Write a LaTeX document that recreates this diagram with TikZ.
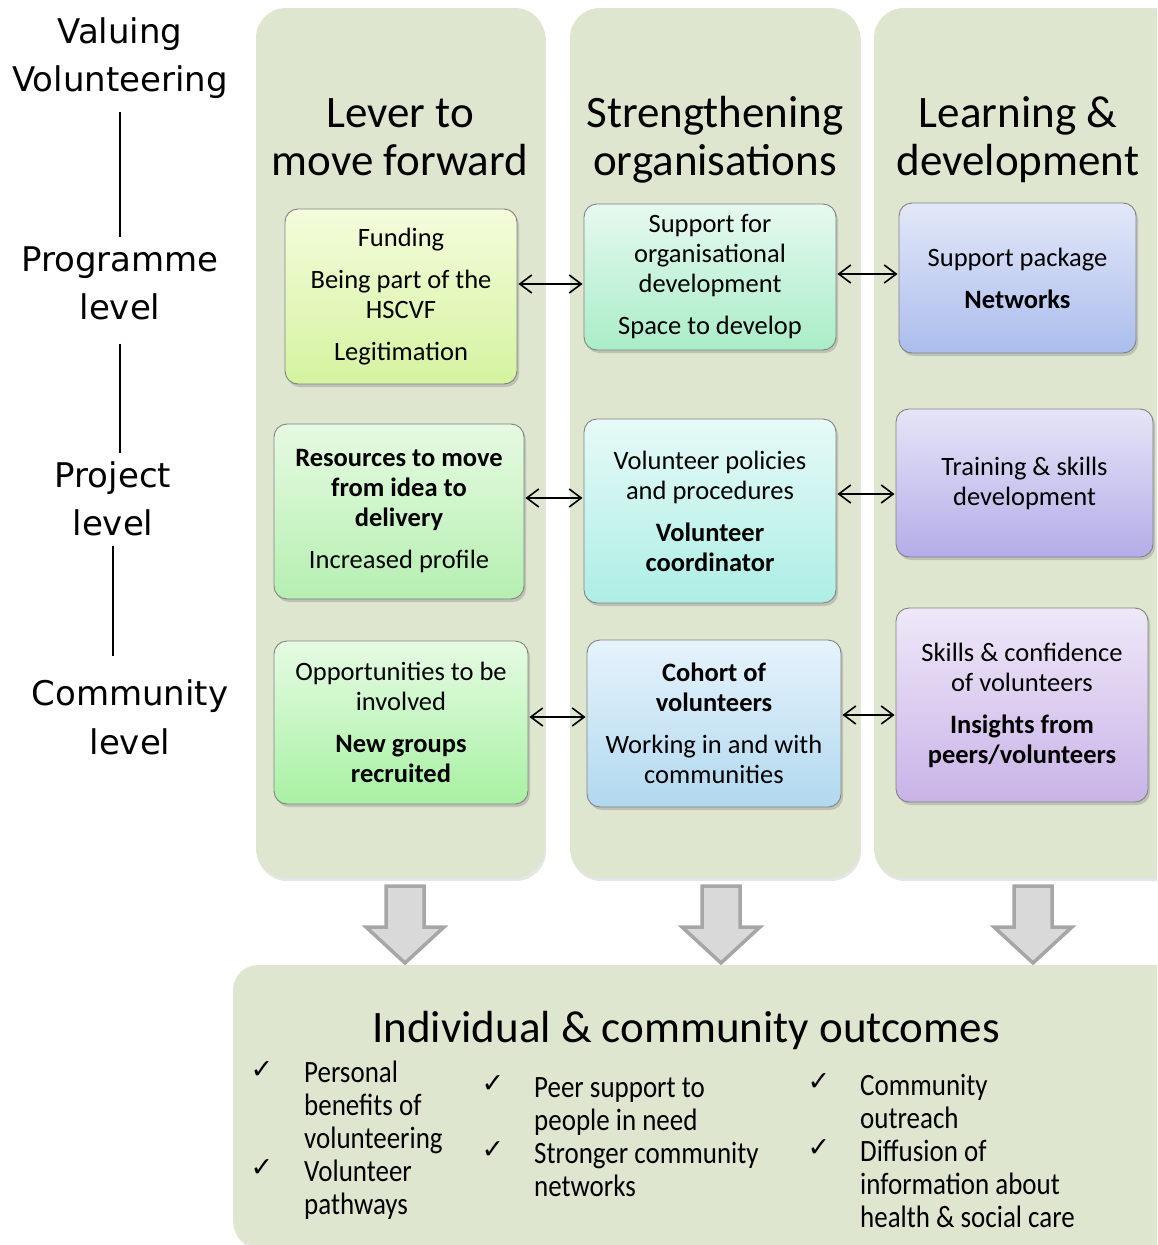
\documentclass[tikz,border=0pt]{standalone}
\usepackage{fontspec}
\setmainfont{Carlito}
\newfontfamily\verd{DejaVu Sans}
\newfontfamily\narrowf{Carlito}[FakeStretch=0.87]
\usetikzlibrary{shadows,arrows.meta,calc}
\definecolor{colbgc}{RGB}{222,230,208}
\definecolor{boxline}{RGB}{130,130,130}
\definecolor{arrfill}{RGB}{217,217,217}
\definecolor{arrline}{RGB}{166,166,166}
\begin{document}
\begin{tikzpicture}[x=1pt,y=-1pt,
 colbg/.style={fill=colbgc, rounded corners=30pt, drop shadow={shadow xshift=1pt,shadow yshift=-3pt,opacity=0.2}},
 box/.style={draw=boxline, line width=0.9pt, rounded corners=13pt, align=center, inner sep=0pt,
   font=\fontsize{26.5}{30}\selectfont, drop shadow={shadow xshift=2pt,shadow yshift=-3pt,opacity=0.35}},
 coltitle/.style={font=\fontsize{45}{48}\selectfont, inner sep=0pt, anchor=base},
 lvl/.style={font=\verd\fontsize{34}{48}\selectfont, inner sep=0pt, anchor=base},
 lvline/.style={line width=1.5pt, black},
 dbl/.style={{Straight Barb[length=12pt,width=18pt]}-{Straight Barb[length=12pt,width=18pt]}, line width=1.6pt, shorten <=1pt, shorten >=1pt},
 blockarr/.style={fill=arrfill, draw=arrline, line width=3.5pt, line join=miter},
 chk/.style={font=\verd\fontsize{27}{27}\selectfont, inner sep=0pt},
 item/.style={font=\narrowf\fontsize{31}{33}\selectfont, align=left, inner sep=0pt, anchor=base west},
]
\useasboundingbox (0,0) rectangle (1157,1245);
\clip (0,0) rectangle (1157,1245);

% column backgrounds
\path[colbg] (256,8) rectangle (545,878);
\path[colbg] (570,8) rectangle (860,878);
\path[colbg] (874,8) rectangle (1190,878);

% column titles
\node[coltitle] (t1a) at (400,127) {Lever to};
\node[coltitle] (t1b) at (400,175) {move forward};
\node[coltitle] (t2a) at (715,127) {Strengthening};
\node[coltitle] (t2b) at (715,175) {organisations};
\node[coltitle] (t3a) at (1018,127) {Learning \&};
\node[coltitle] (t3b) at (1018,175) {development};

% left labels
\node[lvl] (lv1) at (120,43) {Valuing};
\node[lvl] (lv2) at (120,91) {Volunteering};
\node[lvl] (lp1) at (120,271) {Programme};
\node[lvl] (lp2) at (120,319) {level};
\node[lvl] (lj1) at (113,487) {Project};
\node[lvl] (lj2) at (113,535) {level};
\node[lvl] (lc1) at (130,705) {Community};
\node[lvl] (lc2) at (130,754) {level};
\draw[lvline, shorten <=14pt, shorten >=9pt] (lv2.south) -- (lp1.north);
\draw[lvline, shorten <=24pt, shorten >=8pt] (lp2.south) -- (lp2.south |- lj1.north);
\draw[lvline, shorten <=10pt, shorten >=23pt] (lj2.south) -- (lj2.south |- lc1.north);

% boxes
\node[box, minimum width=232, minimum height=175, top color={rgb,255:red,244;green,252;blue,220}, bottom color={rgb,255:red,213;green,243;blue,160}] (fund) at (401,296.5)
 {Funding\\[12pt]Being part of the\\HSCVF\\[12pt]Legitimation};
\node[box, minimum width=252, minimum height=146, top color={rgb,255:red,230;green,249;blue,239}, bottom color={rgb,255:red,169;green,237;blue,200}] (sup) at (710,277)
 {Support for\\organisational\\development\\[12pt]Space to develop};
\node[box, minimum width=237, minimum height=150, top color={rgb,255:red,227;green,232;blue,248}, bottom color={rgb,255:red,171;green,189;blue,237}] (net) at (1017.5,278)
 {Support package\\[12pt]\textbf{Networks}};
\node[box, minimum width=250, minimum height=175, top color={rgb,255:red,230;green,250;blue,226}, bottom color={rgb,255:red,181;green,239;blue,176}] (res) at (399,511.5)
 {\textbf{Resources to move}\\\textbf{from idea to}\\\textbf{delivery}\\[12pt]Increased profile};
\node[box, minimum width=252, minimum height=184, top color={rgb,255:red,230;green,250;blue,247}, bottom color={rgb,255:red,173;green,238;blue,229}] (pol) at (710,511)
 {Volunteer policies\\and procedures\\[12pt]\textbf{Volunteer}\\\textbf{coordinator}};
\node[box, minimum width=257, minimum height=148, top color={rgb,255:red,230;green,228;blue,247}, bottom color={rgb,255:red,180;green,173;blue,232}] (train) at (1024.5,483)
 {Training \& skills\\development};
\node[box, minimum width=254, minimum height=163, top color={rgb,255:red,229;green,251;blue,227}, bottom color={rgb,255:red,168;green,241;blue,163}] (opp) at (401,722.5)
 {Opportunities to be\\involved\\[12pt]\textbf{New groups}\\\textbf{recruited}};
\node[box, minimum width=254, minimum height=167, top color={rgb,255:red,230;green,243;blue,252}, bottom color={rgb,255:red,177;green,216;blue,239}] (coh) at (714,723.5)
 {\textbf{Cohort of}\\\textbf{volunteers}\\[12pt]Working in and with\\communities};
\node[box, minimum width=252, minimum height=194, top color={rgb,255:red,239;green,232;blue,248}, bottom color={rgb,255:red,201;green,179;blue,232}] (skl) at (1022,705)
 {Skills \& confidence\\of volunteers\\[12pt]\textbf{Insights from}\\\textbf{peers/volunteers}};

% connectors
\coordinate (y1a) at (0,284);
\coordinate (y1b) at (0,274);
\coordinate (y2a) at (0,498);
\coordinate (y2b) at (0,494);
\coordinate (y3a) at (0,717);
\coordinate (y3b) at (0,715);
\draw[dbl] (fund.east |- y1a) -- (sup.west |- y1a);
\draw[dbl] (sup.east |- y1b) -- (net.west |- y1b);
\draw[dbl] (res.east |- y2a) -- (pol.west |- y2a);
\draw[dbl] (pol.east |- y2b) -- (train.west |- y2b);
\draw[dbl] (opp.east |- y3a) -- (coh.west |- y3a);
\draw[dbl] (coh.east |- y3b) -- (skl.west |- y3b);

% block arrows
\foreach \cx in {405,721,1033}{
  \path[blockarr] (\cx-19,886) -- (\cx+19,886) -- (\cx+19,927) -- (\cx+39,927) -- (\cx,963) -- (\cx-39,927) -- (\cx-19,927) -- cycle;
}

% outcomes box
\path[fill=colbgc, rounded corners=25pt, drop shadow={shadow xshift=1pt,shadow yshift=-3pt,opacity=0.2}] (233,965) rectangle (1190,1246);
\node[font=\fontsize{45}{48}\selectfont, inner sep=0pt, anchor=base] (otitle) at (686,1042) {Individual \& community outcomes};

\node[chk] (c1) at (262,1070) {✓};
\node[chk] (c2) at (262,1168) {✓};
\node[chk] (c3) at (493,1084) {✓};
\node[chk] (c4) at (493,1150) {✓};
\node[chk] (c5) at (819,1082) {✓};
\node[chk] (c6) at (819,1148) {✓};
\node[item] (i1) at (304,1148) {Personal\\benefits of\\volunteering};
\node[item] (i2) at (304,1214) {Volunteer\\pathways};
\node[item] (i3) at (534,1130) {Peer support to\\people in need};
\node[item] (i4) at (534,1196) {Stronger community\\networks};
\node[item] (i5) at (860,1128) {Community\\outreach};
\node[item] (i6) at (860,1227) {Diffusion of\\information about\\health \& social care};
\end{tikzpicture}
\end{document}
